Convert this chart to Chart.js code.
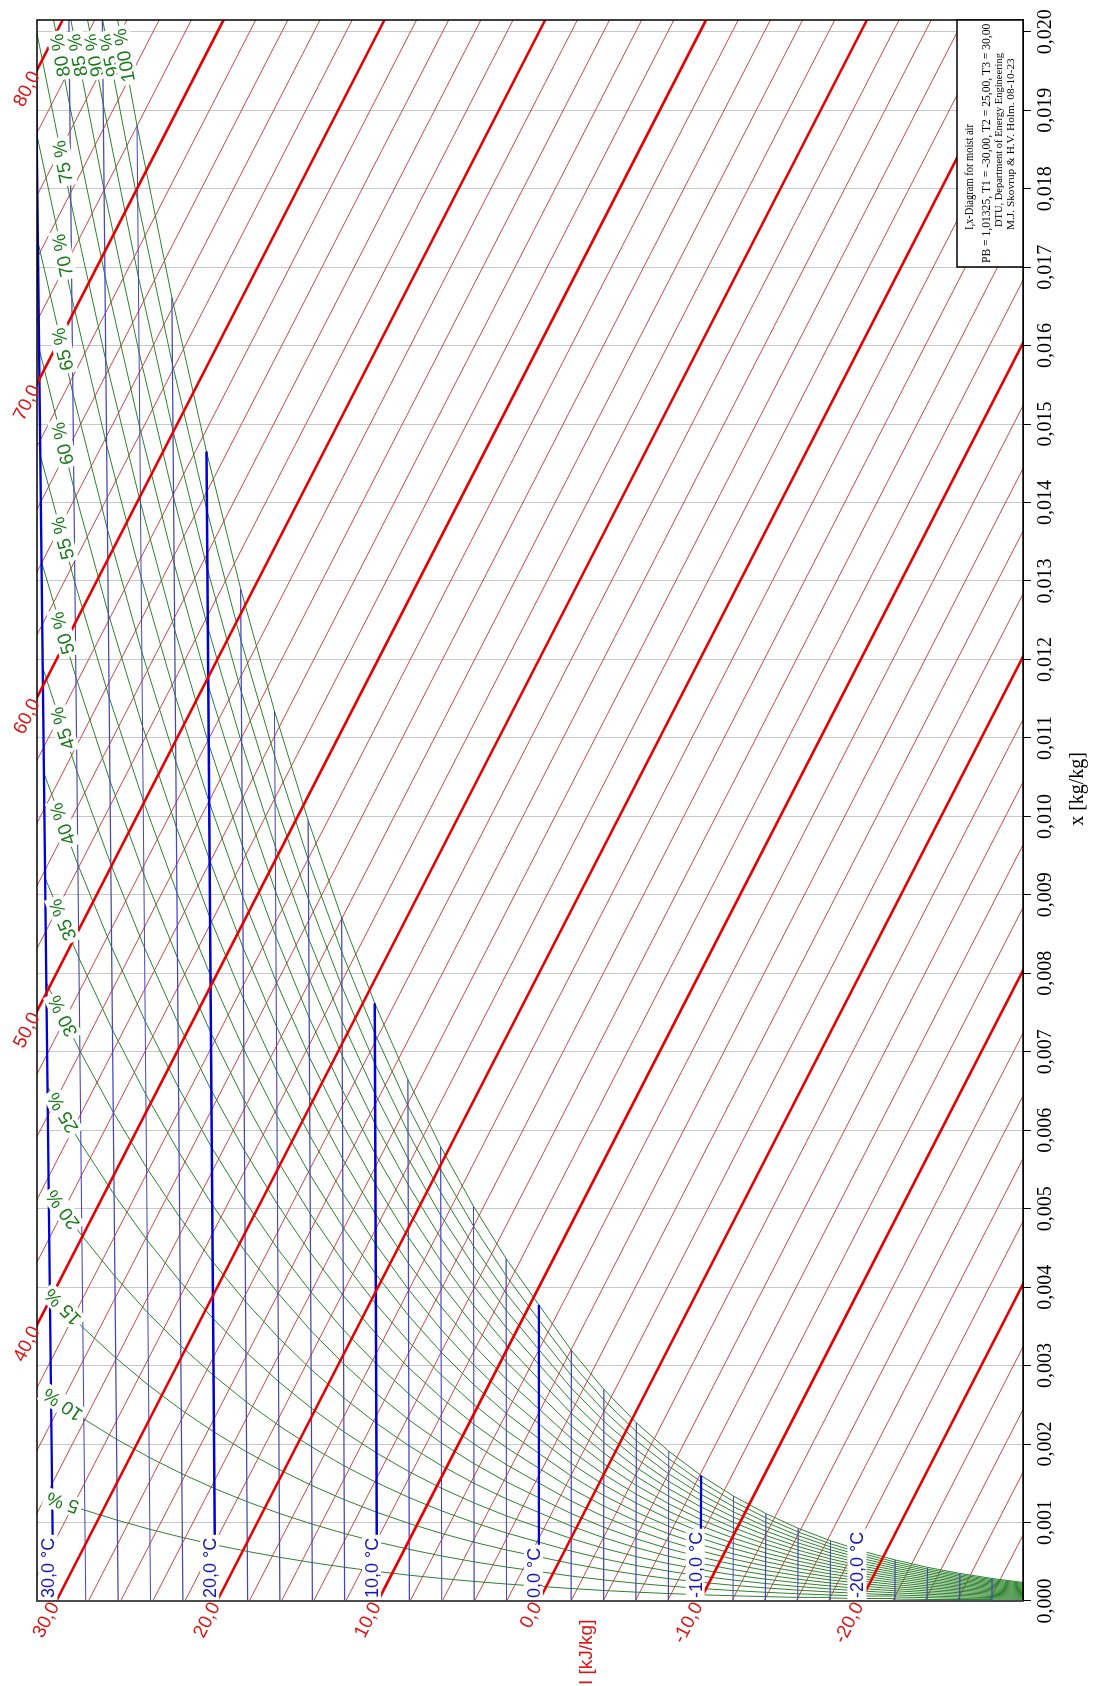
<!DOCTYPE html>
<html>
<head>
<meta charset="utf-8">
<title>I,x-Diagram for moist air</title>
<script src="https://cdn.jsdelivr.net/npm/chart.js@4.4.1/dist/chart.umd.min.js"></script>
<style>
  html, body { margin: 0; padding: 0; background: #fff; overflow: hidden; }
  /* the diagram is drawn upright and turned a quarter turn, like the original print */
  #turn {
    position: absolute; left: 0; top: 0;
    width: 1686px; height: 1097px;
    transform-origin: 0 0;
    transform: translateY(1686px) rotate(-90deg);
  }
</style>
</head>
<body>
<div id="turn"><canvas id="ixChart" width="1686" height="1097"></canvas></div>
<script>
// Values

// isotherms, °C
const temperatures = [-30, -28, -26, -24, -22, -20, -18, -16, -14, -12, -10, -8, -6, -4, -2,
  0, 2, 4, 6, 8, 10, 12, 14, 16, 18, 20, 22, 24, 26, 28, 30]
// humidity ratio on the saturation curve at each isotherm, kg/kg
const saturationX = [0.000234, 0.000287, 0.000352, 0.000429, 0.000523, 0.000635, 0.000768, 0.000926,
  0.001115, 0.001337, 0.001599, 0.001909, 0.002272, 0.002697, 0.003194,
  0.003774, 0.004362, 0.005031, 0.005789, 0.006647, 0.007618, 0.008715, 0.009950,
  0.011340, 0.012902, 0.014651, 0.016613, 0.018807, 0.021260, 0.024001, 0.027065]
// relative humidity curves, %
const humidities = [5, 10, 15, 20, 25, 30, 35, 40, 45, 50, 55, 60, 65, 70, 75, 80, 85, 90, 95, 100]
// enthalpy lines, kJ/kg
const enthalpies = [-28, -26, -24, -22, -20, -18, -16, -14, -12, -10, -8, -6, -4, -2, 0, 2, 4, 6, 8,
  10, 12, 14, 16, 18, 20, 22, 24, 26, 28, 30, 32, 34, 36, 38, 40, 42, 44, 46, 48, 50, 52, 54, 56, 58,
  60, 62, 64, 66, 68, 70, 72, 74, 76, 78, 80]
const enthalpyLabels = [-20, -10, 0, 10, 20, 30, 40, 50, 60, 70, 80]
const temperatureLabels = [-20, -10, 0, 10, 20, 30]
const xTickStep = 0.001
const xMin = 0, xMax = 0.02015
const yMin = -30.1, yMax = 31.2

const legendLines = [
  'I,x-Diagram for moist air',
  'PB = 1,01325, T1 = -30,00, T2 = 25,00, T3 = 30,00',
  'DTU, Department of Energy Engineering',
  'M.J. Skovrup & H.V. Holm. 08-10-23'
]

// moist air relations of the oblique I,x diagram
const PB = 101325
const R0 = 2501
function enthalpy(t, x) { return 1.006 * t + x * (R0 + 1.86 * t) }
function skew(h, x) { return h - R0 * x }
function pointAt(t, x) { return { x: x, y: skew(enthalpy(t, x), x) } }
function humidityX(i, phi) {
  const ps = PB * saturationX[i] / (0.622 + saturationX[i])
  return 0.622 * phi * ps / (PB - phi * ps)
}

const comma = (v, d) => v.toFixed(d).replace('.', ',')

const datasets = []
enthalpies.forEach(h => {
  const thick = h % 10 === 0
  datasets.push({
    data: [{ x: xMin, y: skew(h, xMin) }, { x: xMax, y: skew(h, xMax) }],
    borderColor: thick ? '#e60000' : '#c84848',
    borderWidth: thick ? 2.6 : 1,
    order: thick ? 1 : 5
  })
})

const humidityCurves = humidities.map(rh =>
  temperatures.map((t, i) => pointAt(t, humidityX(i, rh / 100))))
humidityCurves.forEach(curve => {
  datasets.push({ data: curve, borderColor: '#2c822c', borderWidth: 1, order: 4 })
})

temperatures.forEach((t, i) => {
  const thick = t % 10 === 0
  datasets.push({
    data: [pointAt(t, 0), pointAt(t, saturationX[i])],
    borderColor: thick ? '#0000d8' : '#4646b8',
    borderWidth: thick ? 2.4 : 1.2,
    order: 3
  })
})

datasets.forEach(ds => {
  ds.showLine = true
  ds.pointRadius = 0
  ds.fill = false
  ds.tension = 0
})

const sans = '"Liberation Sans", Arial, sans-serif'
const serif = '"Liberation Serif", "Times New Roman", serif'

function spotOnCurve(pts, key, target) {
  for (let j = 1; j < pts.length; j++) {
    const a = pts[j - 1][key], b = pts[j][key]
    if (a !== b && (a - target) * (b - target) <= 0) {
      const f = (target - a) / (b - a)
      return {
        j: j,
        x: pts[j - 1].x + f * (pts[j].x - pts[j - 1].x),
        y: pts[j - 1].y + f * (pts[j].y - pts[j - 1].y)
      }
    }
  }
  return null
}

const ixLabels = {
  id: 'ixLabels',
  afterDraw(chart) {
    const { ctx, chartArea: a } = chart
    const sx = chart.scales.x, sy = chart.scales.y
    const px = v => sx.getPixelForValue(v)
    const py = v => sy.getPixelForValue(v)

    // frame
    ctx.save()
    ctx.strokeStyle = '#000'
    ctx.lineWidth = 1.5
    ctx.strokeRect(a.left, a.top, a.right - a.left, a.bottom - a.top)
    ctx.strokeStyle = '#555'
    ctx.beginPath()
    ctx.moveTo(a.left, a.top)
    ctx.lineTo(a.left, a.bottom)
    ctx.stroke()
    ctx.restore()

    // isotherm labels
    ctx.save()
    ctx.font = '18px ' + sans
    ctx.textAlign = 'left'
    ctx.textBaseline = 'alphabetic'
    temperatureLabels.forEach(t => {
      const text = comma(t, 1) + ' °C'
      const u = px(0) + 3
      const v = py(pointAt(t, 0).y)
      const w = ctx.measureText(text).width
      ctx.fillStyle = '#fff'
      ctx.fillRect(u - 2, v - 15, w + 5, 19)
      ctx.fillStyle = '#1818b0'
      ctx.fillText(text, u, v + 1)
    })
    ctx.restore()

    // relative humidity labels
    ctx.save()
    ctx.beginPath()
    ctx.rect(a.left, a.top, a.right - a.left, a.bottom - a.top)
    ctx.clip()
    ctx.font = '19px ' + sans
    ctx.textAlign = 'center'
    ctx.textBaseline = 'middle'
    humidityCurves.forEach((pts, k) => {
      let s = spotOnCurve(pts, 'y', 29.6)
      if (!s || s.x > 0.0195) s = spotOnCurve(pts, 'x', 0.0197)
      if (!s) return
      const p0 = pts[s.j - 1], p1 = pts[s.j]
      const ang = Math.atan2(py(p1.y) - py(p0.y), px(p1.x) - px(p0.x))
      const text = humidities[k] + ' %'
      const w = ctx.measureText(text).width
      ctx.save()
      ctx.translate(px(s.x), py(s.y))
      ctx.rotate(ang)
      ctx.fillStyle = '#fff'
      ctx.fillRect(-w / 2 - 3, -10, w + 6, 20)
      ctx.fillStyle = '#1a7a1a'
      ctx.fillText(text, 0, 1)
      ctx.restore()
    })
    ctx.restore()

    // enthalpy labels at the ends of the heavy lines
    ctx.save()
    ctx.font = '19px ' + sans
    ctx.fillStyle = '#dc1414'
    ctx.textAlign = 'right'
    ctx.textBaseline = 'middle'
    const ang = Math.atan2(py(skew(0, 0.001)) - py(skew(0, 0)), px(0.001) - px(0))
    enthalpyLabels.forEach(h => {
      const x0 = h > yMax ? (h - yMax) / R0 : 0
      ctx.save()
      ctx.translate(px(x0), py(skew(h, x0)))
      ctx.rotate(ang)
      ctx.fillText(comma(h, 1), -3, 0)
      ctx.restore()
    })
    ctx.textAlign = 'left'
    ctx.fillText('I [kJ/kg]', 1, 587)
    ctx.restore()

    // axis title
    ctx.save()
    ctx.font = '20px ' + serif
    ctx.fillStyle = '#000'
    ctx.textAlign = 'center'
    ctx.textBaseline = 'middle'
    ctx.fillText('x [kg/kg]', px(0.01035), a.bottom + 55)
    ctx.restore()

    // legend box
    ctx.save()
    const bx = 1419, by = 957
    ctx.fillStyle = '#fff'
    ctx.fillRect(bx, by, a.right - bx, a.bottom - by)
    ctx.strokeStyle = '#000'
    ctx.lineWidth = 1.5
    ctx.strokeRect(bx, by, a.right - bx, a.bottom - by)
    ctx.fillStyle = '#000'
    ctx.textAlign = 'left'
    ctx.textBaseline = 'middle'
    const rows = [
      { u: 1456, v: 970, size: 12, w: 106 },
      { u: 1423, v: 987, size: 11.6, w: 240 },
      { u: 1459, v: 999, size: 10.6, w: 174 },
      { u: 1456, v: 1011, size: 11.3, w: 174 }
    ]
    legendLines.forEach((line, i) => {
      ctx.font = rows[i].size + 'px ' + serif
      ctx.fillText(line, rows[i].u, rows[i].v, rows[i].w)
    })
    ctx.restore()
  }
}

new Chart(document.getElementById('ixChart'), {
  type: 'scatter',
  data: { datasets: datasets },
  options: {
    responsive: false,
    animation: false,
    events: [],
    layout: { padding: { left: 85, right: 20, top: 37, bottom: 0 } },
    plugins: {
      legend: { display: false },
      tooltip: { enabled: false }
    },
    scales: {
      x: {
        type: 'linear',
        position: 'bottom',
        min: xMin,
        max: xMax,
        afterFit: scale => { scale.height = 74 },
        ticks: {
          stepSize: xTickStep,
          includeBounds: false,
          autoSkip: false,
          maxRotation: 0,
          padding: 3,
          color: '#000',
          font: { family: serif, size: 20 },
          callback: v => comma(v, 3)
        },
        grid: { color: '#c8c8c8', lineWidth: 1, tickColor: '#000', tickLength: 8 },
        border: { color: '#000' }
      },
      y: {
        type: 'linear',
        min: yMin,
        max: yMax,
        display: false
      }
    }
  },
  plugins: [ixLabels]
})
</script>
</body>
</html>
